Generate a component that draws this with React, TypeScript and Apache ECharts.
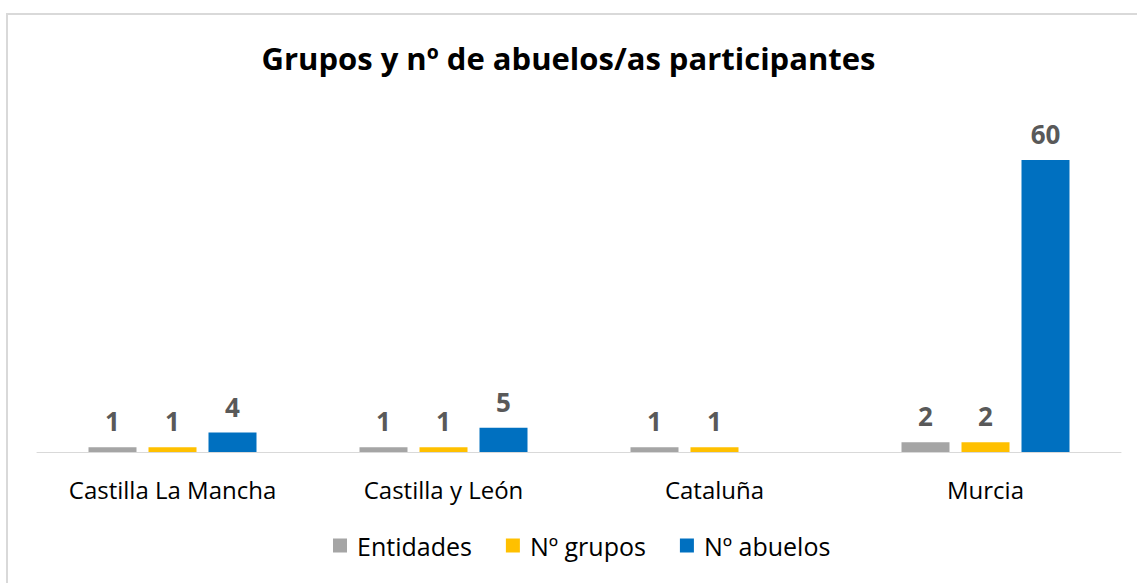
import React, { useEffect, useRef } from "react";
import * as echarts from "echarts";

const categories = ["Castilla La Mancha", "Castilla y León", "Cataluña", "Murcia"];
const entidades = [1, 1, 1, 2];
const grupos = [1, 1, 1, 2];
const abuelos = [4, 5, null, 60];
const seriesNames = ["Entidades", "Nº grupos", "Nº abuelos"];
const colors = ["#a5a5a5", "#ffc000", "#0070c0"];

const FONT = "Open Sans";

export default function App() {
  const ref = useRef<HTMLDivElement>(null);
  useEffect(() => {
    const chart = echarts.init(ref.current!, null, { renderer: "svg" });
    const label = {
      show: true,
      position: "top" as const,
      distance: 13,
      fontFamily: FONT,
      fontWeight: "bold" as const,
      fontSize: 26,
      color: "#595959",
    };
    const data = [entidades, grupos, abuelos];
    chart.setOption({
      animation: false,
      backgroundColor: "#ffffff",
      title: {
        text: "Grupos y nº de abuelos/as participantes",
        left: "center",
        top: 37,
        textStyle: { fontFamily: FONT, fontWeight: "bold", fontSize: 31, color: "#000000" },
      },
      graphic: [
        {
          type: "rect",
          shape: { x: 7, y: 14, width: 1200, height: 700 },
          style: { fill: "none", stroke: "#d9d9d9", lineWidth: 2 },
          silent: true,
        },
      ],
      legend: {
        bottom: 20,
        left: 328,
        itemWidth: 14,
        itemHeight: 14,
        itemGap: 34,
        icon: "rect",
        textStyle: { fontFamily: FONT, fontSize: 25, color: "#000000", padding: [0, 0, 0, 5] },
        data: seriesNames,
      },
      grid: { left: 37, right: 16, top: 160, bottom: 131, containLabel: false },
      xAxis: {
        type: "category",
        data: categories,
        axisLine: { lineStyle: { color: "#d9d9d9", width: 1 } },
        axisTick: { show: false },
        axisLabel: { fontFamily: FONT, fontSize: 24, color: "#000000", margin: 25 },
      },
      yAxis: {
        type: "value",
        min: 0,
        max: 60,
        show: false,
        splitLine: { show: false },
      },
      series: seriesNames.map((name, i) => ({
        name,
        type: "bar",
        data: data[i],
        barWidth: 48,
        barGap: "25%",
        itemStyle: { color: colors[i] },
        label,
      })),
    });
    return () => chart.dispose();
  }, []);
  return (
    <div
      ref={ref}
      style={{ position: "fixed", left: 0, top: 0, width: 1137, height: 583 }}
    />
  );
}
